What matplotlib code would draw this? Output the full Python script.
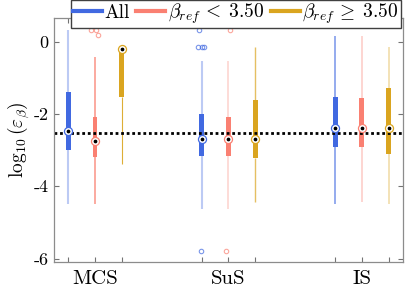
import numpy as np
import matplotlib.pyplot as plt
from matplotlib.lines import Line2D

plt.rcParams['font.family'] = 'serif'
plt.rcParams['font.serif'] = ['cmr10']
plt.rcParams['mathtext.fontset'] = 'cm'
plt.rcParams['axes.unicode_minus'] = False

methods = ['MCS', 'SuS', 'IS']
groups = ['All', r'$\beta_{ref}\,<\;3.50$', r'$\beta_{ref}\,\geq\;3.50$']
colors = ['royalblue', 'salmon', 'goldenrod']

# rows = method, cols = group
whislo = [[-4.49, -4.50, -3.39], [-4.63, -4.63, -4.42], [-4.50, -4.44, -4.50]]
q1 = [[-3.00, -3.20, -1.52], [-3.16, -3.15, -3.22], [-2.90, -2.90, -3.12]]
med = [[-2.46, -2.74, -0.20], [-2.69, -2.69, -2.69], [-2.40, -2.40, -2.40]]
q3 = [[-1.39, -2.08, -0.20], [-2.00, -2.08, -1.62], [-1.54, -1.57, -1.29]]
whishi = [[0.32, -0.44, -0.20], [-0.53, -0.53, -0.16], [0.15, 0.15, -0.16]]

# outliers (value) and their x jitter
fliers = {(0, 1): [0.31, 0.31, 0.17],
          (1, 0): [0.32, -0.16, -0.16, -0.16, -5.80],
          (1, 1): [0.32, -5.80]}
jitter = {(0, 1): [-0.03, 0.008, 0.019],
          (1, 0): [-0.02, -0.026, 0.0, 0.015, -0.008],
          (1, 1): [0.01, -0.017]}

ref_line = -2.53

# whisker look per box
whisk_alpha = [[0.35, 0.85, 0.9], [0.35, 0.3, 0.7], [0.6, 0.35, 0.35]]
whisk_lw = [[1.5, 1.1, 0.8], [1.5, 1.3, 1.0], [1.3, 1.3, 1.3]]

offsets = [-0.2, 0.0, 0.2]

fig = plt.figure(figsize=(4.07, 2.91), dpi=100)
ax = fig.add_axes([0.1327, 0.0997, 0.8573, 0.8384])

tick_pos = []
tick_lab = []
for i, m in enumerate(methods):
    for j in range(3):
        x = i + 1 + offsets[j]
        tick_pos.append(x)
        tick_lab.append(m if j == 1 else '')
        st = dict(med=med[i][j], q1=q1[i][j], q3=q3[i][j],
                  whislo=whislo[i][j], whishi=whishi[i][j], fliers=[])
        ax.bxp([st], positions=[x], widths=0.037, patch_artist=True,
               showcaps=False, showfliers=False,
               boxprops=dict(facecolor=colors[j], edgecolor='none'),
               whiskerprops=dict(color=colors[j], alpha=whisk_alpha[i][j],
                                 lw=whisk_lw[i][j], solid_capstyle='butt'),
               medianprops=dict(visible=False))
        ax.plot(x, med[i][j], 'o', ms=5.8, mfc='white', mec=colors[j],
                mew=0.9, zorder=4)
        ax.plot(x, med[i][j], 'o', ms=1.7, color='black', zorder=5)
        if (i, j) in fliers:
            xs = [x + d for d in jitter[(i, j)]]
            ax.plot(xs, fliers[(i, j)], 'o', ms=3.2, mfc='none',
                    mec=colors[j], mew=0.8, alpha=0.7, zorder=3)

ax.axhline(ref_line, color='black', lw=2, dashes=(1, 1),
           dash_capstyle='butt', zorder=2)

ax.set_xlim(0.693, 3.307)
ax.set_ylim(-6.09, 0.65)
ax.set_xticks(tick_pos)
ax.set_xticklabels(tick_lab, fontsize=15)
ax.set_yticks([0, -2, -4, -6])
ax.set_yticklabels(['0', '-2', '-4', '-6'], fontsize=13)
ax.tick_params(direction='in', length=3.5, color='0.45', right=True,
               top=True, pad=4)
ax.tick_params(axis='x', pad=6)
for s in ax.spines.values():
    s.set_color('0.55')
    s.set_linewidth(0.9)
ax.set_ylabel(r'$\log_{10}(\varepsilon_\beta)$', fontsize=14, labelpad=1)

handles = [Line2D([], [], color=c, lw=3) for c in colors]
fig.legend(handles, groups, loc='upper right', ncol=3,
           bbox_to_anchor=(0.985, 1.0), fontsize=14, frameon=True,
           fancybox=False, framealpha=1, edgecolor='0.25',
           handlelength=1.5, handletextpad=0.12, columnspacing=0.33,
           borderpad=0.1, borderaxespad=0.0)

fig.savefig('out.png', dpi=100)
